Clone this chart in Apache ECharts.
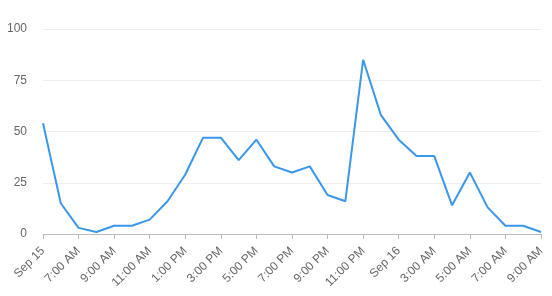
<!DOCTYPE html>
<html>
<head>
<meta charset="utf-8">
<script src="https://cdn.jsdelivr.net/npm/echarts@6/dist/echarts.min.js"></script>
<style>html,body{margin:0;padding:0;background:#fff;}#c{width:552px;height:296px;}</style>
</head>
<body>
<div id="c"></div>
<script>
var categories = ["Sep 15","6:00 AM","7:00 AM","8:00 AM","9:00 AM","10:00 AM","11:00 AM","12:00 PM","1:00 PM","2:00 PM","3:00 PM","4:00 PM","5:00 PM","6:00 PM","7:00 PM","8:00 PM","9:00 PM","10:00 PM","11:00 PM","12:00 AM","Sep 16","2:00 AM","3:00 AM","4:00 AM","5:00 AM","6:00 AM","7:00 AM","8:00 AM","9:00 AM"];
var values = [54,15,3,1,4,4,7,16,29,47,47,36,46,33,30,33,19,16,85,58,46,38,38,14,30,13,4,4,1];
var yTicks = [0,25,50,75,100];

var chart = echarts.init(document.getElementById('c'));
chart.setOption({
  animation:false,
  grid:{left:43,right:11,top:29,bottom:62,containLabel:false},
  xAxis:{
    type:'category',data:categories,boundaryGap:false,
    axisLine:{lineStyle:{color:'#bbb'}},
    axisTick:{interval:1,lineStyle:{color:'#bbb'},length:5},
    axisLabel:{interval:1,rotate:45,color:'#666',fontSize:12,fontFamily:'Arial, Liberation Sans, sans-serif',margin:15}
  },
  yAxis:{
    type:'value',min:yTicks[0],max:yTicks[yTicks.length-1],interval:25,
    axisLine:{show:false},axisTick:{show:false},
    splitLine:{lineStyle:{color:'#eee'}},
    axisLabel:{color:'#666',fontSize:12,fontFamily:'Arial, Liberation Sans, sans-serif',margin:16}
  },
  series:[{type:'line',data:values,symbol:'none',lineStyle:{color:'#3a97e9',width:2},itemStyle:{color:'#3a97e9'}}]
});
</script>
</body>
</html>
